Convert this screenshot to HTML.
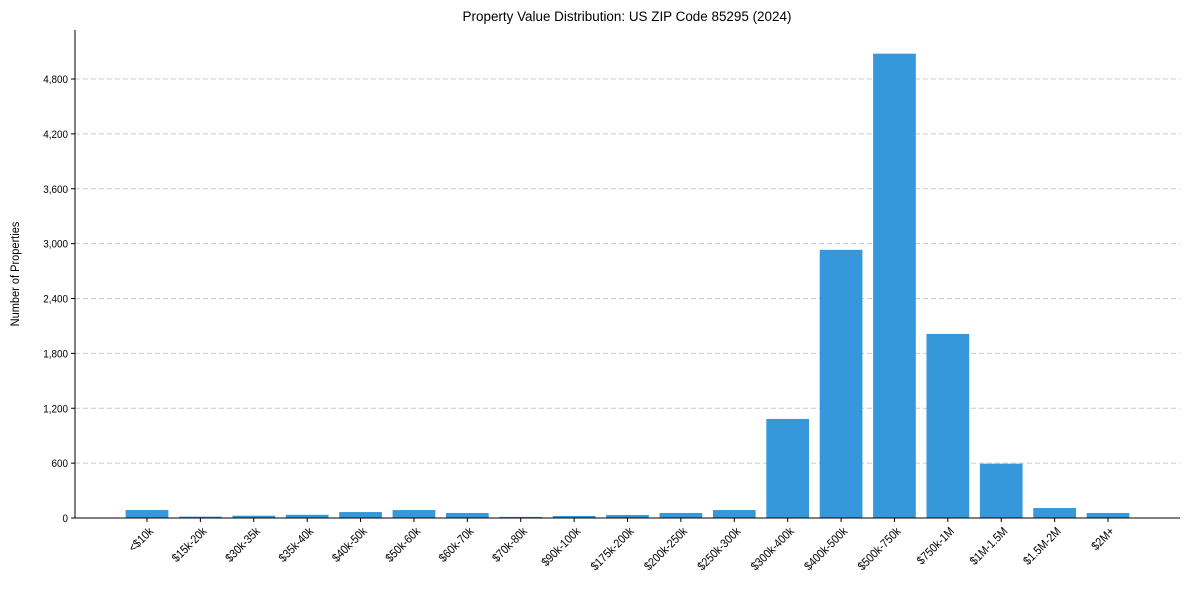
<!DOCTYPE html>
<html><head><meta charset="utf-8"><style>
body{margin:0;background:#fff}
svg{font-family:"Liberation Sans",sans-serif}
</style></head><body>
<svg id="chart" width="1190" height="590">
<text x="627" y="21" text-anchor="middle" font-size="14" transform="translate(627,0) scale(0.96,1) translate(-627,0)">Property Value Distribution: US ZIP Code 85295 (2024)</text>
<text transform="translate(19,274) rotate(-90) scale(0.92,1)" text-anchor="middle" font-size="12">Number of Properties</text>
<g id="grid"></g><g id="bars"></g><g id="axes"></g>
</svg>
<script>
const categories=["<$10k","$15k-20k","$30k-35k","$35k-40k","$40k-50k","$50k-60k","$60k-70k","$70k-80k","$90k-100k","$175k-200k","$200k-250k","$250k-300k","$300k-400k","$400k-500k","$500k-750k","$750k-1M","$1M-1.5M","$1.5M-2M","$2M+"];
const values=[87,15,25,35,65,87,55,12,22,33,55,87,1083,2932,5077,2013,594,109,55];
const yTicks=[0,600,1200,1800,2400,3000,3600,4200,4800];
const yTickLabels=["0","600","1,200","1,800","2,400","3,000","3,600","4,200","4,800"];
const NS="http://www.w3.org/2000/svg";
const L=75,R=1180,T=30,B=518,yMax=5336;
const y=v=>B-(v/yMax)*(B-T);
const step=53.39,x0=147;
const x=i=>x0+step*i;
function mk(t,a,p){const e=document.createElementNS(NS,t);for(const k in a)e.setAttribute(k,a[k]);p.appendChild(e);return e;}
const grid=document.getElementById('grid'),bars=document.getElementById('bars'),axes=document.getElementById('axes');
yTicks.forEach((v,i)=>{
 if(v>0){const g=mk('line',{x1:L,x2:R,y1:y(v),y2:y(v),stroke:'#ccc','stroke-dasharray':'5,3'},grid);
 
 }
 mk('line',{x1:L-4,x2:L,y1:y(v),y2:y(v),stroke:'#000'},axes);
 const t=mk('text',{transform:`translate(${L-7},${y(v)+4}) scale(0.9,1)`,'text-anchor':'end','font-size':'11'},axes);t.textContent=yTickLabels[i];
 
 
});
const bw=step*0.8;
values.forEach((v,i)=>{
 const r=mk('rect',{x:x(i)-bw/2,y:y(v),width:bw,height:B-y(v),fill:'#3498db'},bars);
 
 
 mk('line',{x1:x(i),x2:x(i),y1:B,y2:B+4,stroke:'#000'},axes);
 const t=mk('text',{transform:`translate(${x(i)+7},${B+14}) rotate(-45) scale(0.88,1)`,'text-anchor':'end','font-size':'12'},axes);t.textContent=categories[i];
 
 
});
const ax=mk('line',{x1:L,x2:L,y1:T,y2:B,stroke:'#000'},axes);


const bx=mk('line',{x1:L,x2:R,y1:B,y2:B,stroke:'#000'},axes);


</script>
</body></html>
